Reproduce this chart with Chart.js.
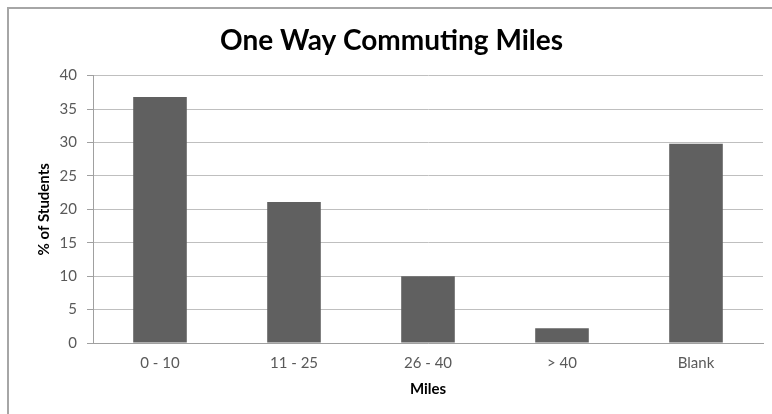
<!DOCTYPE html>
<html>
<head>
<meta charset="utf-8">
<script src="https://cdn.jsdelivr.net/npm/chart.js@4/dist/chart.umd.min.js"></script>
<style>
  html, body { margin: 0; padding: 0; background: #fff; overflow: hidden; }
  #frame {
    position: absolute; left: 7px; top: 7px; width: 780px; height: 420px;
    border-left: 2px solid #a6a6a6; border-top: 2px solid #a6a6a6;
  }
  #wrap { position: absolute; left: 0; top: 0; width: 772px; height: 414px; }
</style>
</head>
<body>
<div id="frame"></div>
<div id="wrap"><canvas id="chartCommute" width="772" height="414"></canvas></div>
<script>
/* ── Commuting distance bar chart ── */
const categories = ['0 - 10', '11 - 25', '26 - 40', '> 40', 'Blank'];
const percentStudents = [36.8, 21.1, 10.0, 2.2, 29.8];
const yMax = 40;
const yStep = 5;

const FONT = 'Lato, "Open Sans", sans-serif';
const BAR_COLOR = '#606060';
const GRID_COLOR = '#bfbfbf';
const AXIS_COLOR = '#a0a0a0';
const TICK_COLOR = '#595959';

new Chart(document.getElementById('chartCommute'), {
  type: 'bar',
  data: {
    labels: categories,
    datasets: [{
      label: '% of Students',
      data: percentStudents,
      backgroundColor: BAR_COLOR,
      borderWidth: 0,
      categoryPercentage: 0.4,
      barPercentage: 1.0,
    }]
  },
  options: {
    responsive: false,
    animation: false,
    layout: { padding: { left: 20, right: 9, top: 0, bottom: 0 } },
    plugins: {
      legend: { display: false },
      tooltip: { enabled: false },
      title: {
        display: true,
        text: 'One Way Commuting Miles',
        color: '#000',
        font: { family: FONT, size: 28, weight: 'bold' },
        padding: { top: 24, bottom: 18 },
      }
    },
    scales: {
      x: {
        afterFit: (scale) => { scale.height = 71; },
        grid: { display: false, drawTicks: false, tickLength: 0 },
        border: { display: true, color: AXIS_COLOR, width: 1 },
        ticks: { color: TICK_COLOR, font: { family: FONT, size: 15 }, padding: 11, maxRotation: 0 },
        title: {
          display: true, text: 'Miles', color: '#000',
          font: { family: FONT, size: 15, weight: 'bold' },
          padding: { top: 16, bottom: 16 },
        }
      },
      y: {
        min: 0, max: yMax,
        afterFit: (scale) => { scale.width = 73; },
        grid: { color: GRID_COLOR, lineWidth: 1, tickLength: 6, tickColor: AXIS_COLOR },
        border: { display: true, color: AXIS_COLOR, width: 1 },
        ticks: { stepSize: yStep, color: TICK_COLOR, font: { family: FONT, size: 15 }, padding: 10 },
        title: {
          display: true, text: '% of Students', color: '#000',
          font: { family: FONT, size: 15, weight: 'bold' },
          padding: { top: 15, bottom: 0 },
        }
      }
    }
  }
});
</script>
</body>
</html>
